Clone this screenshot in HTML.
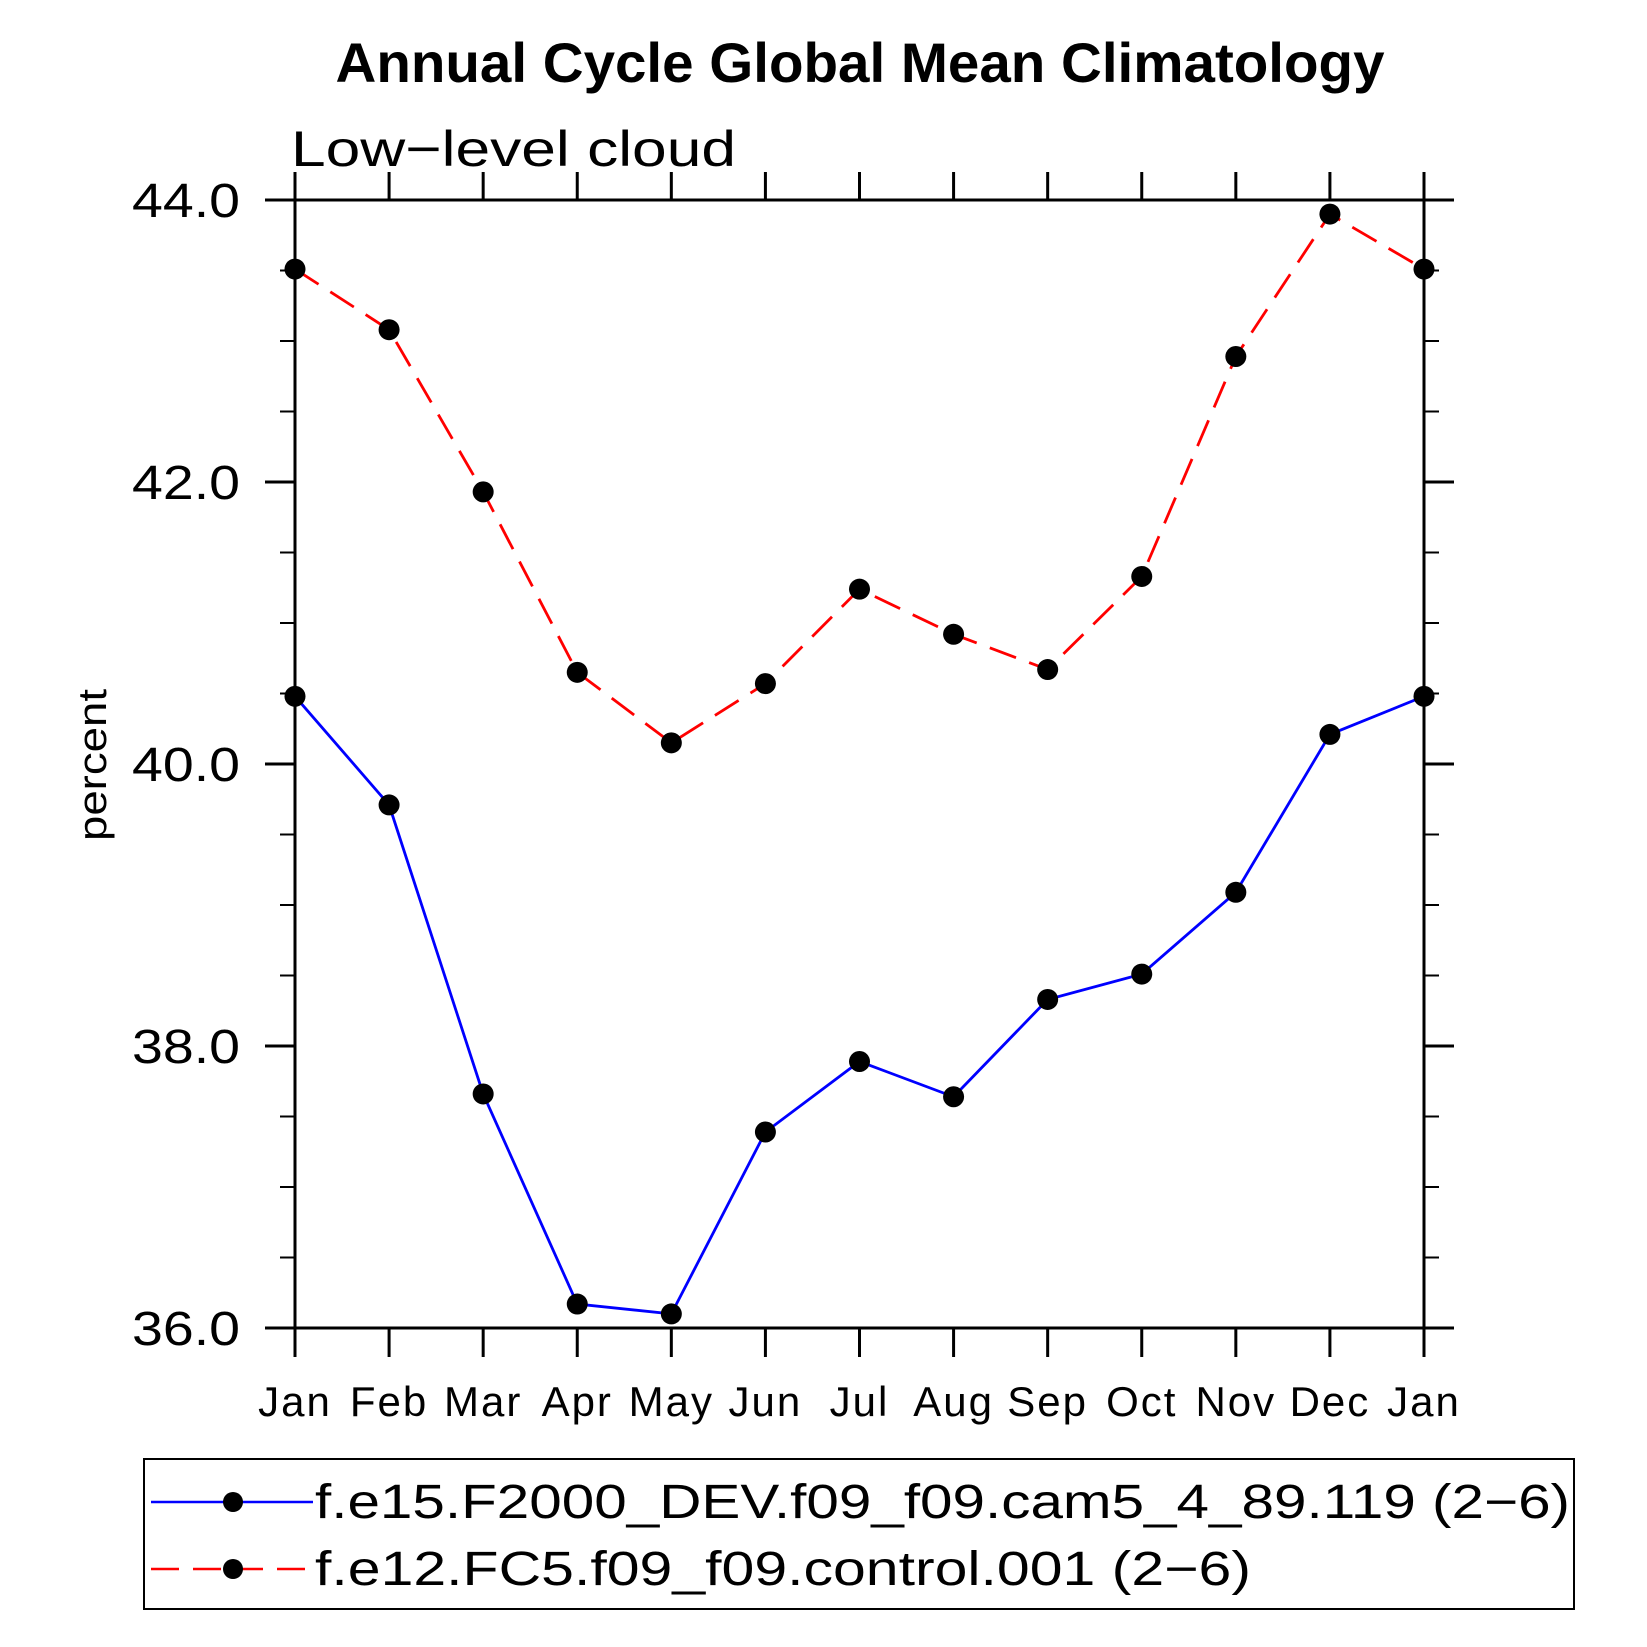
<!DOCTYPE html>
<html><head><meta charset="utf-8"><style>
html,body{margin:0;padding:0;background:#fff;}
svg{display:block;font-family:"Liberation Sans",sans-serif;}
</style></head><body>
<svg id="chart" width="1647" height="1647" viewBox="0 0 1647 1647">
<text x="860" y="82" text-anchor="middle" font-size="56" font-weight="bold" textLength="1049" lengthAdjust="spacingAndGlyphs">Annual Cycle Global Mean Climatology</text>
<text x="291" y="166" font-size="50" textLength="445" lengthAdjust="spacingAndGlyphs">Low−level cloud</text>
<text transform="translate(106,765) rotate(-90)" text-anchor="middle" font-size="40" textLength="152" lengthAdjust="spacingAndGlyphs">percent</text>
<g id="axes"></g>
<g id="series"></g>
<rect x="144" y="1459" width="1430" height="150" fill="none" stroke="#000" stroke-width="2"/>
<g>
<line x1="151" y1="1502" x2="313" y2="1502" stroke="#0000ff" stroke-width="2.5"/>
<circle cx="233" cy="1502" r="10" fill="#000"/>
<text x="315" y="1518" font-size="48" textLength="1255" lengthAdjust="spacingAndGlyphs">f.e15.F2000_DEV.f09_f09.cam5_4_89.119 (2−6)</text>
</g>
<g>
<line x1="151" y1="1569" x2="313" y2="1569" stroke="#ff0000" stroke-width="2.5" stroke-dasharray="28,14"/>
<circle cx="233" cy="1569" r="10" fill="#000"/>
<text x="315" y="1585" font-size="48" textLength="936" lengthAdjust="spacingAndGlyphs">f.e12.FC5.f09_f09.control.001 (2−6)</text>
</g>
</svg>
<script>
const months = ["Jan","Feb","Mar","Apr","May","Jun","Jul","Aug","Sep","Oct","Nov","Dec","Jan"];
const blueValues = [40.48,39.71,37.66,36.17,36.10,37.39,37.89,37.64,38.33,38.51,39.09,40.21,40.48];
const redValues = [43.51,43.08,41.93,40.65,40.15,40.57,41.24,40.92,40.67,41.33,42.89,43.90,43.51];
const yTicks = [36,38,40,42,44];
const yTickLabels = ["36.0","38.0","40.0","42.0","44.0"];
const yMin = 36, yMax = 44;
const L=295, R=1424, T=200, B=1328;
const NS="http://www.w3.org/2000/svg";
function xs(i){return L+(R-L)*i/(months.length-1);}
function ys(v){return B-(B-T)*(v-yMin)/(yMax-yMin);}
function mk(tag,attrs,parent){const e=document.createElementNS(NS,tag);for(const k in attrs)e.setAttribute(k,attrs[k]);parent.appendChild(e);return e;}
const ax=document.getElementById('axes');
const sAttr={stroke:"#000","stroke-width":3};
let e;
e=mk('line',Object.assign({x1:265,y1:T,x2:1453,y2:T},sAttr),ax);


e=mk('line',Object.assign({x1:265,y1:B,x2:1453,y2:B},sAttr),ax);


e=mk('line',Object.assign({x1:L,y1:172,x2:L,y2:1357},sAttr),ax);


e=mk('line',Object.assign({x1:R,y1:172,x2:R,y2:1357},sAttr),ax);


months.forEach((m,i)=>{
  const x=xs(i);
  mk('line',Object.assign({x1:x,y1:B,x2:x,y2:1357},sAttr),ax);
  mk('line',Object.assign({x1:x,y1:T,x2:x,y2:172},sAttr),ax);
  const t=mk('text',{x:x,y:1416,"text-anchor":"middle","font-size":42,"letter-spacing":2},ax);
  t.textContent=m;
  
  
});
for(let v=yMin; v<=yMax+1e-9; v+=0.5){
  const y=ys(v);
  const major=Math.abs(v-Math.round(v/2)*2)<1e-9;
  const len=major?30:15;
  mk('line',{x1:L-len,y1:y,x2:L,y2:y,stroke:"#000","stroke-width":major?3:2},ax);
  mk('line',{x1:R,y1:y,x2:R+len,y2:y,stroke:"#000","stroke-width":major?3:2},ax);
}
yTicks.forEach((v,i)=>{
  const t=mk('text',{x:240,y:ys(v)+17,"text-anchor":"end","font-size":48,textLength:108,lengthAdjust:"spacingAndGlyphs"},ax);
  t.textContent=yTickLabels[i];
  
  
});
const sg=document.getElementById('series');
function drawSeries(vals,color,dash,name){
  const g=mk('g',{},sg);
  
  
  const pts=vals.map((v,i)=>xs(i)+","+ys(v)).join(" ");
  const a={points:pts,fill:"none",stroke:color,"stroke-width":2.8};
  if(dash)a["stroke-dasharray"]=dash;
  mk('polyline',a,g);
  vals.forEach((v,i)=>{
    const c=mk('circle',{cx:xs(i),cy:ys(v),r:10.5,fill:"#000"},g);
    
    
  });
}
drawSeries(redValues,"#ff0000","28,14","series-control");
drawSeries(blueValues,"#0000ff",null,"series-dev");
</script>
</body></html>
